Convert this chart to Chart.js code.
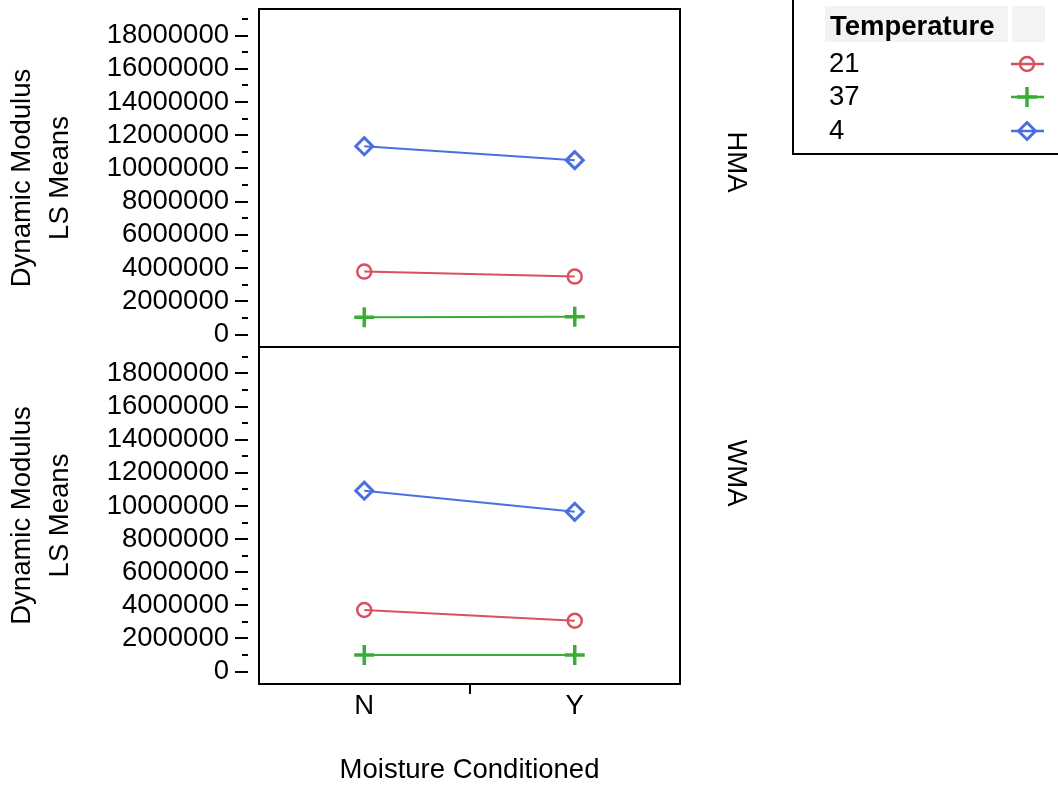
<!DOCTYPE html>
<html>
<head>
<meta charset="utf-8">
<script src="https://cdn.jsdelivr.net/npm/chart.js@4.4.1/dist/chart.umd.min.js"></script>
<style>
  html, body { margin: 0; padding: 0; background: #fff; }
  #wrap { position: relative; width: 1058px; height: 787px; overflow: hidden; }
  #chartTop { position: absolute; left: 0; top: 0; }
  #chartBottom { position: absolute; left: 0; top: 340px; }
</style>
</head>
<body>
<div id="wrap">
  <canvas id="chartTop" width="1058" height="349"></canvas>
  <canvas id="chartBottom" width="1058" height="447"></canvas>
</div>
<script>
// Dados
const moisture = ['N', 'Y'];
const temperatures = ['21', '37', '4'];
const hma21 = [3790000, 3490000];
const hma37 = [1040000, 1070000];
const hma4 = [11340000, 10500000];
const wma21 = [3720000, 3070000];
const wma37 = [1000000, 1000000];
const wma4 = [10920000, 9650000];
const majorTicks = [0, 2000000, 4000000, 6000000, 8000000, 10000000, 12000000, 14000000, 16000000, 18000000];
const minorTicks = [1000000, 3000000, 5000000, 7000000, 9000000, 11000000, 13000000, 15000000, 17000000, 19000000];

const FONT = '"Liberation Sans", Arial, sans-serif';
const FS = 27.5;
const RED = '#d9505e';
const GREEN = '#3aad35';
const BLUE = '#4a6fe0';

const seriesStyle = [
    { color: RED, pointStyle: 'circle', radius: 7, width: 2.5 },
    { color: GREEN, pointStyle: 'cross', radius: 10, width: 3.5 },
    { color: BLUE, pointStyle: 'rectRot', radius: 8.5, width: 3 }
];

function makeDatasets(values) {
    return values.map((vals, i) => ({
        label: temperatures[i],
        data: vals,
        borderColor: seriesStyle[i].color,
        backgroundColor: 'transparent',
        borderWidth: 2,
        pointStyle: seriesStyle[i].pointStyle,
        pointRadius: seriesStyle[i].radius,
        pointBorderWidth: seriesStyle[i].width,
        pointBorderColor: seriesStyle[i].color,
        pointBackgroundColor: 'transparent',
        tension: 0
    }));
}

// moldura, ticks do eixo y e rótulo da faceta
const panelPlugin = {
    id: 'panel',
    afterDraw(chart, args, opts) {
        const { ctx, chartArea: a } = chart;
        const y = chart.scales.y;
        ctx.save();
        ctx.strokeStyle = '#000';
        ctx.lineWidth = 2;
        ctx.strokeRect(a.left, a.top, a.right - a.left, a.bottom - a.top);

        ctx.beginPath();
        majorTicks.forEach(v => {
            const p = Math.round(y.getPixelForValue(v));
            ctx.moveTo(235, p); ctx.lineTo(248, p);
        });
        minorTicks.forEach(v => {
            const p = Math.round(y.getPixelForValue(v));
            ctx.moveTo(242, p); ctx.lineTo(248, p);
        });
        ctx.stroke();

        if (opts.xTick) {
            const x = chart.scales.x;
            const mid = Math.round((x.getPixelForValue(0) + x.getPixelForValue(1)) / 2);
            ctx.beginPath();
            ctx.moveTo(mid, a.bottom); ctx.lineTo(mid, a.bottom + 10);
            ctx.stroke();
        }

        ctx.fillStyle = '#000';
        ctx.font = FS + 'px ' + FONT;
        ctx.textAlign = 'center';
        ctx.textBaseline = 'middle';
        ctx.translate(opts.labelX, opts.labelY);
        ctx.rotate(Math.PI / 2);
        ctx.fillText(opts.facet, 0, 0);
        ctx.restore();
    }
};

// legenda desenhada à mão (caixa de JMP)
const legendBoxPlugin = {
    id: 'legendBox',
    afterDraw(chart, args, opts) {
        if (!opts.show) return;
        const ctx = chart.ctx;
        ctx.save();
        ctx.fillStyle = '#f3f3f3';
        ctx.fillRect(825, 6, 183, 36);
        ctx.fillRect(1012, 6, 33, 36);
        ctx.strokeStyle = '#000';
        ctx.lineWidth = 2;
        ctx.strokeRect(793, -5, 300, 159);

        ctx.fillStyle = '#000';
        ctx.textAlign = 'left';
        ctx.textBaseline = 'middle';
        ctx.font = 'bold ' + FS + 'px ' + FONT;
        ctx.fillText('Temperature', 830, 27);
        ctx.font = FS + 'px ' + FONT;
        const rows = [64, 97, 131];
        temperatures.forEach((t, i) => {
            const yy = rows[i];
            const s = seriesStyle[i];
            ctx.fillStyle = '#000';
            ctx.fillText(t, 829, yy);
            ctx.strokeStyle = s.color;
            ctx.lineWidth = 2.5;
            ctx.beginPath();
            ctx.moveTo(1011, yy); ctx.lineTo(1044, yy);
            ctx.stroke();
            ctx.lineWidth = s.width;
            ctx.beginPath();
            const cx = 1027, r = s.radius;
            if (s.pointStyle === 'circle') {
                ctx.arc(cx, yy, r, 0, Math.PI * 2);
            } else if (s.pointStyle === 'cross') {
                ctx.moveTo(cx - r, yy); ctx.lineTo(cx + r, yy);
                ctx.moveTo(cx, yy - r); ctx.lineTo(cx, yy + r);
            } else {
                ctx.moveTo(cx - r, yy); ctx.lineTo(cx, yy - r);
                ctx.lineTo(cx + r, yy); ctx.lineTo(cx, yy + r);
                ctx.closePath();
            }
            ctx.stroke();
        });
        ctx.restore();
    }
};

function yScale() {
    return {
        type: 'linear',
        min: -750000,
        max: 19600000,
        afterBuildTicks: s => { s.ticks = majorTicks.map(v => ({ value: v })); },
        afterFit: s => { s.width = 259; s.paddingTop = 0; s.paddingBottom = 0; },
        grid: { display: false, drawTicks: false },
        border: { display: false },
        ticks: {
            padding: 30,
            color: '#000',
            font: { family: FONT, size: FS },
            autoSkip: false,
            callback: v => String(v)
        },
        title: {
            display: true,
            text: ['Dynamic Modulus', 'LS Means'],
            color: '#000',
            font: { family: FONT, size: FS, lineHeight: '38px' },
            padding: { top: 3, bottom: 0 }
        }
    };
}

function makeChart(id, values, opts) {
    return new Chart(document.getElementById(id), {
        type: 'line',
        data: { labels: moisture, datasets: makeDatasets(values) },
        options: {
            responsive: false,
            animation: false,
            layout: { padding: opts.padding, autoPadding: false },
            plugins: {
                legend: { display: false },
                tooltip: { enabled: false },
                panel: opts.panel,
                legendBox: { show: opts.legend }
            },
            scales: {
                x: {
                    type: 'category',
                    offset: true,
                    display: opts.showX,
                    afterFit: s => { if (opts.showX) s.height = 103; s.paddingLeft = 0; s.paddingRight = 0; },
                    grid: { display: false, drawTicks: false },
                    border: { display: false },
                    ticks: { padding: 6, color: '#000', font: { family: FONT, size: FS } },
                    title: {
                        display: true,
                        text: 'Moisture Conditioned',
                        color: '#000',
                        font: { family: FONT, size: FS },
                        padding: { top: 0, bottom: 0 }
                    }
                },
                y: yScale()
            }
        },
        plugins: [panelPlugin, legendBoxPlugin]
    });
}

makeChart('chartTop', [hma21, hma37, hma4], {
    padding: { top: 9, right: 378, bottom: 2, left: 0 },
    showX: false,
    legend: true,
    panel: { facet: 'HMA', labelX: 736, labelY: 162, xTick: false }
});

makeChart('chartBottom', [wma21, wma37, wma4], {
    padding: { top: 7, right: 378, bottom: 0, left: 0 },
    showX: true,
    legend: false,
    panel: { facet: 'WMA', labelX: 736, labelY: 133, xTick: true }
});
</script>
</body>
</html>
